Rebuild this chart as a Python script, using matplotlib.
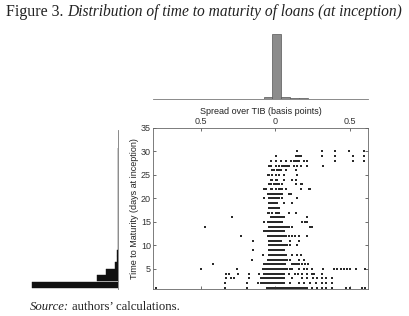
import matplotlib
matplotlib.use('Agg')
import matplotlib.pyplot as plt

# spread over TIB (x) for each maturity day (y)
d01 = [-0.80, -0.34, -0.19, -0.06, -0.05, -0.04, -0.03, -0.02, -0.01, 0.00, 0.01, 0.02, 0.03, 0.04, 0.05,
       0.06, 0.07, 0.08, 0.09, 0.10, 0.11, 0.12, 0.13, 0.14, 0.15, 0.16, 0.17, 0.18, 0.19, 0.20, 0.21,
       0.245, 0.28, 0.31, 0.34, 0.38, 0.47, 0.50, 0.58, 0.60]
d02 = [-0.34, -0.19, -0.12, -0.10, -0.09, -0.08, -0.07, -0.06, -0.05, -0.04, -0.03, -0.02, -0.01, 0.00,
       0.01, 0.02, 0.03, 0.04, 0.05, 0.06, 0.10, 0.16, 0.19, 0.23, 0.27, 0.31, 0.34, 0.38]
d03 = [-0.33, -0.30, -0.28, -0.18, -0.10, -0.09, -0.08, -0.07, -0.06, -0.05, -0.04, -0.03, -0.02, -0.01,
       0.00, 0.01, 0.02, 0.03, 0.04, 0.05, 0.06, 0.11, 0.18, 0.21, 0.25, 0.28, 0.31, 0.34, 0.38]
d04 = [-0.33, -0.31, -0.25, -0.18, -0.11, -0.075, -0.065, -0.055, -0.045, -0.035, -0.025, -0.015, -0.005,
       0.005, 0.015, 0.025, 0.035, 0.045, 0.055, 0.09, 0.13, 0.15, 0.18, 0.21, 0.245, 0.26, 0.31]
d05 = [-0.50, -0.26, -0.085, -0.075, -0.065, -0.055, -0.045, -0.035, -0.025, -0.015, -0.005, 0.005, 0.015,
       0.025, 0.035, 0.045, 0.055, 0.065, 0.075, 0.10, 0.11, 0.16, 0.19, 0.21, 0.245, 0.32, 0.39, 0.41,
       0.44, 0.46, 0.48, 0.50, 0.54, 0.60]
d06 = [-0.42, -0.075, -0.065, -0.055, -0.045, -0.035, -0.025, -0.015, -0.005, 0.005, 0.015, 0.025, 0.035,
       0.045, 0.055, 0.065, 0.11, 0.12, 0.13, 0.14, 0.15, 0.16, 0.18, 0.20, 0.22]
d07 = [-0.155, -0.05, -0.04, -0.03, -0.02, -0.01, 0.00, 0.01, 0.02, 0.03, 0.04, 0.05, 0.06, 0.07, 0.08,
       0.10, 0.16, 0.19]
d08 = [-0.086, -0.04, -0.03, -0.02, -0.01, 0.00, 0.01, 0.02, 0.03, 0.04, 0.05, 0.06, 0.07, 0.11, 0.146, 0.17]
d09 = [-0.15, -0.04, -0.03, -0.02, -0.01, 0.00, 0.01, 0.02, 0.03, 0.04, 0.05, 0.06]
d10 = [-0.04, -0.03, -0.02, -0.01, 0.00, 0.01, 0.02, 0.03, 0.04, 0.05, 0.06, 0.07, 0.08, 0.10, 0.146]
d11 = [-0.15, -0.04, -0.03, -0.02, -0.01, 0.00, 0.01, 0.02, 0.03, 0.04, 0.10, 0.16]
d12 = [-0.23, -0.05, -0.04, -0.03, -0.02, -0.01, 0.00, 0.01, 0.02, 0.03, 0.04, 0.05, 0.06, 0.07, 0.09,
       0.11, 0.13, 0.16, 0.21]
d13 = [-0.075, -0.064, -0.05, -0.04, -0.03, -0.02, -0.01, 0.00, 0.01, 0.02, 0.03, 0.04, 0.05, 0.06]
d14 = [-0.47, -0.04, -0.03, -0.02, -0.01, 0.00, 0.01, 0.02, 0.03, 0.04, 0.05, 0.06, 0.07, 0.08, 0.09,
       0.11, 0.23, 0.245]
d15 = [-0.075, -0.053, -0.043, -0.033, -0.023, -0.013, -0.003, 0.007, 0.017, 0.027, 0.037, 0.046,
       0.18, 0.20, 0.21]
d16 = [-0.29, -0.031, -0.02, -0.009, 0.002, 0.013, 0.024, 0.035, 0.046, 0.057, 0.21]
d17 = [-0.053, -0.042, -0.02, 0.002, 0.013, 0.024, 0.09, 0.135]
d18 = [-0.042, -0.031, -0.02, -0.009, 0.002, 0.013, 0.024]
d19 = [-0.042, -0.031, -0.02, -0.009, 0.002, 0.013, 0.057, 0.113]
d20 = [-0.075, -0.042, -0.031, -0.02, -0.009, 0.002, 0.013, 0.024, 0.046, 0.146]
d21 = [-0.053, -0.042, -0.031, -0.02, -0.009, 0.002, 0.013, 0.024, 0.035, 0.046, 0.09, 0.101]
d22 = [-0.075, -0.064, -0.031, -0.02, 0.002, 0.024, 0.035, 0.046, 0.068, 0.168, 0.223, 0.234]
d23 = [-0.042, -0.031, -0.009, 0.002, 0.013, 0.024, 0.046, 0.135, 0.168, 0.179]
d24 = [-0.031, -0.02, 0.002, 0.013, 0.057, 0.113, 0.135]
d25 = [-0.053, -0.042, -0.02, 0.002, 0.024, 0.057, 0.146]
d26 = [-0.02, -0.009, 0.013, 0.024, 0.035, 0.068, 0.135]
d27 = [-0.042, -0.031, 0.002, 0.024, 0.046, 0.057, 0.068, 0.079, 0.09, 0.124, 0.146, 0.168, 0.212, 0.32]
d28 = [-0.031, 0.002, 0.035, 0.068, 0.101, 0.124, 0.135, 0.146, 0.157, 0.19, 0.212, 0.40, 0.52, 0.59]
d29 = [0.002, 0.135, 0.146, 0.157, 0.168, 0.31, 0.40, 0.52, 0.59]
d30 = [0.146, 0.31, 0.40, 0.49, 0.59]

rows = [d01, d02, d03, d04, d05, d06, d07, d08, d09, d10, d11, d12, d13, d14, d15,
        d16, d17, d18, d19, d20, d21, d22, d23, d24, d25, d26, d27, d28, d29, d30]
days = [1, 2, 3, 4, 5, 6, 7, 8, 9, 10, 11, 12, 13, 14, 15,
        16, 17, 18, 19, 20, 21, 22, 23, 24, 25, 26, 27, 28, 29, 30]

# marginal histogram of spread (top)
spread_bins = [-0.11, -0.05, 0.01, 0.07, 0.13, 0.19, 0.25, 0.31]
spread_counts = [3, 18, 600, 18, 6, 4, 2, 1]

# marginal histogram of maturity (left)
mat_bins = [1.65, 3.05, 4.35, 5.7, 7.05, 8.4, 9.75, 11.1, 12.45, 13.8, 15.15, 16.5, 17.85,
            19.2, 20.55, 21.9, 23.25, 24.6, 25.95, 27.3, 28.65, 30.0]
mat_counts = [860, 210, 120, 30, 15, 15, 5, 4, 4, 3, 3, 3, 2, 2, 2, 2, 2, 2, 2, 2, 2, 2]

xs, ys = [], []
for d, r in zip(days, rows):
    xs += r
    ys += [d] * len(r)

plt.rcParams['font.family'] = ['Liberation Sans', 'DejaVu Sans']
fig = plt.figure(figsize=(4.09, 3.16), dpi=100)

ax = fig.add_axes([0.374, 0.085, 0.526, 0.510])
ax.scatter(xs, ys, s=0.75, marker='s', color='#2a2a2a', linewidths=0)
ax.set_xlim(-0.82, 0.62)
ax.set_ylim(0.7, 35)
ax.set_xticks([-0.5, 0, 0.5])
ax.set_xticklabels(['0.5', '0', '0.5'])
ax.set_yticks([5, 10, 15, 20, 25, 30, 35])
ax.xaxis.tick_top()
ax.xaxis.set_label_position('top')
ax.tick_params(direction='in', length=2, width=0.5, labelsize=6.5, colors='#333333', pad=1.5,
               top=True, bottom=True, left=True, right=True, labelbottom=False)
ax.set_xlabel('Spread over TIB (basis points)', fontsize=6.5, color='#222222', labelpad=2)
ax.set_ylabel('Time to Maturity (days at inception)', fontsize=6.5, color='#222222', labelpad=1)
for s in ax.spines.values():
    s.set_color('#666666')
    s.set_linewidth(0.6)

axt = fig.add_axes([0.374, 0.687, 0.526, 0.218])
axt.bar(spread_bins, spread_counts, width=0.06, color='#8c8c8c', edgecolor='#555555', linewidth=0.5)
axt.set_xlim(-0.82, 0.62)
axt.set_ylim(0, 637)
axt.set_xticks([])
axt.set_yticks([])
for k in ['top', 'left', 'right']:
    axt.spines[k].set_visible(False)
axt.spines['bottom'].set_color('#777777')
axt.spines['bottom'].set_linewidth(0.6)

axl = fig.add_axes([0.049, 0.085, 0.24, 0.510])
axl.barh(mat_bins, mat_counts, height=1.35, color='#111111', edgecolor='#111111', linewidth=0.3)
axl.set_xlim(980, 0)
axl.set_ylim(0.7, 35)
axl.set_xticks([])
axl.set_yticks([])
for k in ['top', 'left', 'bottom']:
    axl.spines[k].set_visible(False)
axl.spines['right'].set_color('#777777')
axl.spines['right'].set_linewidth(0.6)
axl.spines['right'].set_bounds(0.7, 34.5)

fig.text(6 / 409, 1 - 12 / 316, 'Figure 3.', fontfamily='Liberation Serif', fontsize=11.5,
         va='center', color='#222222')
fig.text(67 / 409, 1 - 12 / 316, 'Distribution of time to maturity of loans (at inception)',
         fontfamily='Liberation Serif', style='italic', fontsize=11.2, va='center', color='#222222')
fig.text(30 / 409, 1 - 307 / 316, 'Source:', fontfamily='Liberation Serif', style='italic',
         fontsize=9.2, va='center', color='#222222')
fig.text(72 / 409, 1 - 307 / 316, 'authors\u2019 calculations.', fontfamily='Liberation Serif',
         fontsize=9.2, va='center', color='#222222')

fig.savefig('out.png', dpi=100)
